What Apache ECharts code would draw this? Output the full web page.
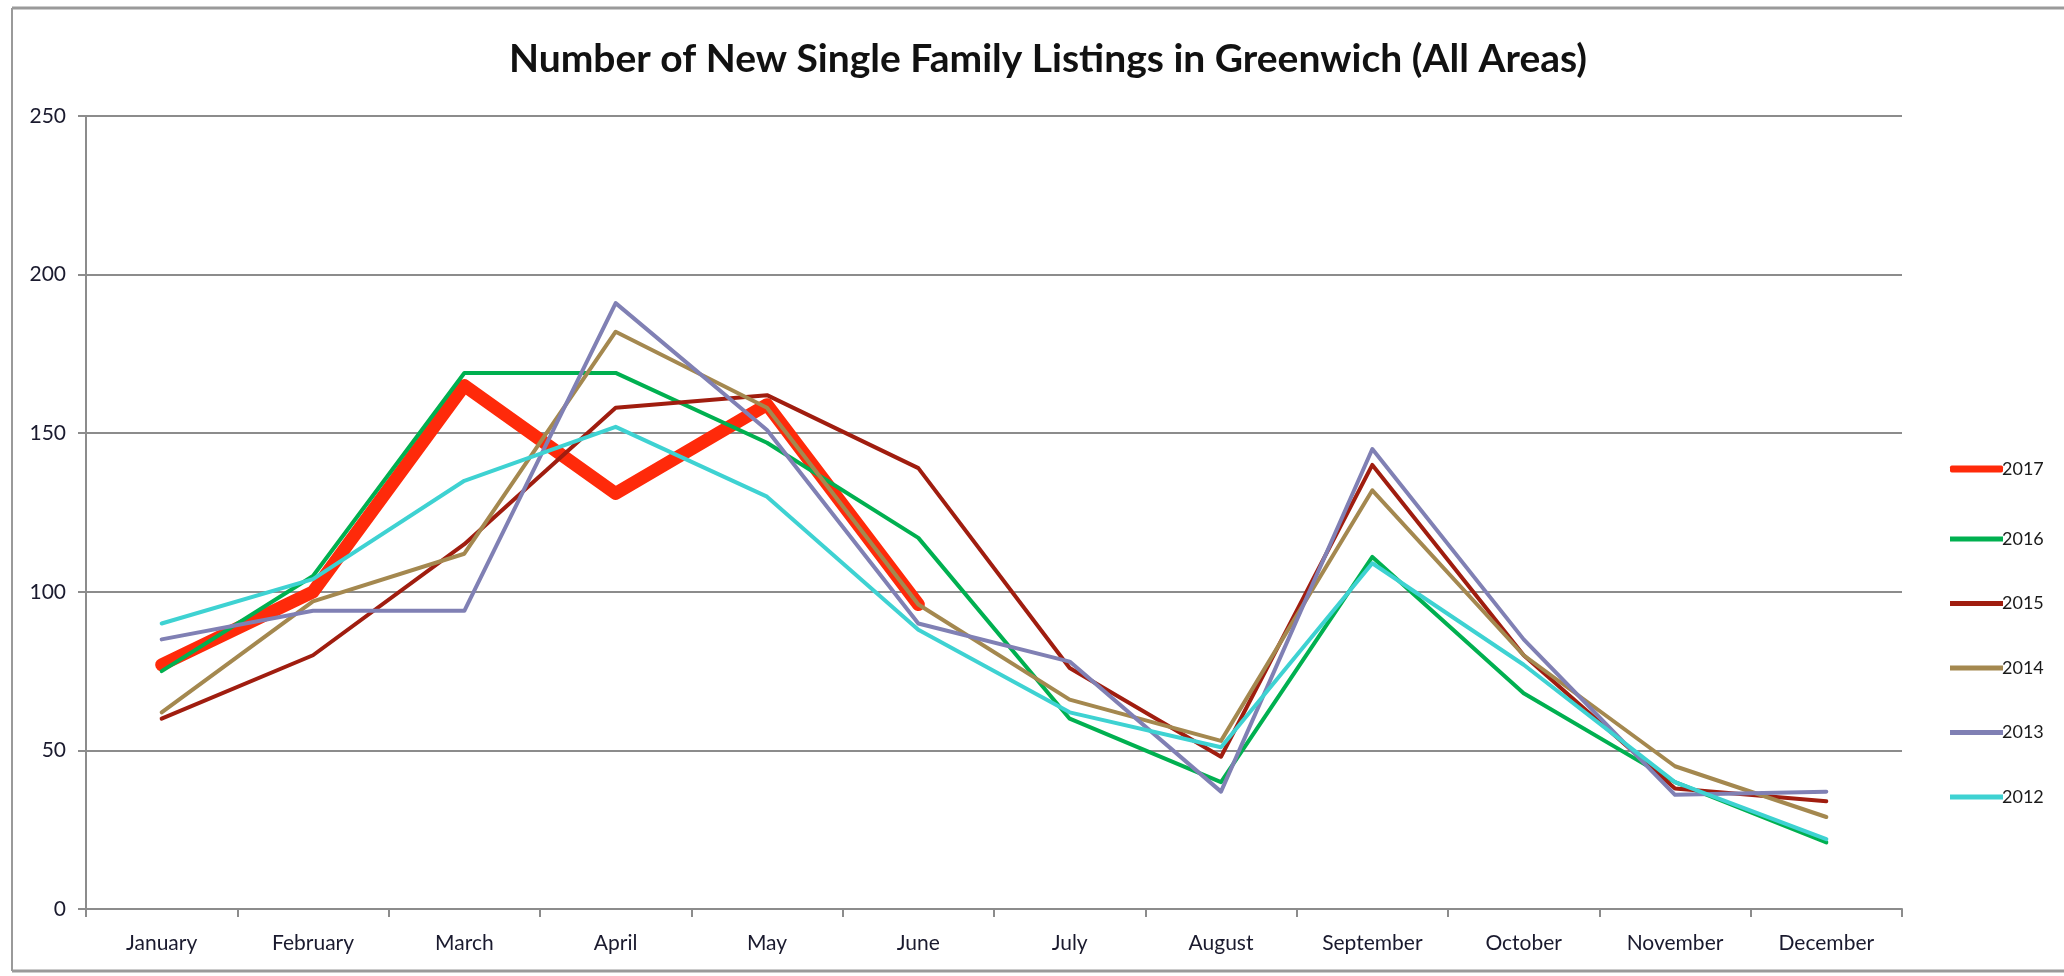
<!DOCTYPE html>
<html>
<head>
<meta charset="utf-8">
<script src="https://cdn.jsdelivr.net/npm/echarts@6/dist/echarts.min.js"></script>
<style>
html,body{margin:0;padding:0;background:#fff;}
#chart{width:2064px;height:976px;}
</style>
</head>
<body>
<div id="chart"></div>
<script>
const months = ['January','February','March','April','May','June','July','August','September','October','November','December'];
const yTicks = [0, 50, 100, 150, 200, 250];
const s2017 = [77, 100, 165, 131, 159, 96, null, null, null, null, null, null];
const s2016 = [75, 105, 169, 169, 147, 117, 60, 40, 111, 68, 40, 21];
const s2015 = [60, 80, 115, 158, 162, 139, 76, 48, 140, 80, 38, 34];
const s2014 = [62, 97, 112, 182, 158, 96, 66, 53, 132, 80, 45, 29];
const s2013 = [85, 94, 94, 191, 151, 90, 78, 37, 145, 85, 36, 37];
const s2012 = [90, 104, 135, 152, 130, 88, 62, 51, 109, 77, 40, 22];
const seriesNames = ['2017','2016','2015','2014','2013','2012'];
const seriesData = [s2017, s2016, s2015, s2014, s2013, s2012];
const colors = ['#ff2a0a', '#00b050', '#a01d0f', '#a4884f', '#8080b4', '#3ed2d2'];
const widths = [13, 4, 4, 4, 4, 4];

const chart = echarts.init(document.getElementById('chart'), null, {renderer: 'canvas'});
const fontFam = 'Lato, "Open Sans", sans-serif';
const option = {
  animation: false,
  backgroundColor: '#ffffff',
  title: {
    text: 'Number of New Single Family Listings in Greenwich (All Areas)',
    left: 1043, top: 35, textAlign: 'center',
    textStyle: {fontFamily: fontFam, fontWeight: 'bold', fontSize: 39, color: '#111'}
  },
  grid: {left: 86, right: 162, top: 116, bottom: 67, containLabel: false},
  xAxis: {
    type: 'category', data: months, boundaryGap: true,
    axisLine: {show: true, lineStyle: {color: '#8c8c8c', width: 2}},
    axisTick: {show: true, length: 8, lineStyle: {color: '#8c8c8c', width: 2}},
    axisLabel: {fontFamily: fontFam, fontSize: 21, color: '#1a1a2e', margin: 24}
  },
  yAxis: {
    type: 'value', min: yTicks[0], max: yTicks[yTicks.length - 1], interval: 50,
    axisLine: {show: true, lineStyle: {color: '#8c8c8c', width: 2}},
    axisTick: {show: true, length: 8, lineStyle: {color: '#8c8c8c', width: 2}},
    axisLabel: {fontFamily: fontFam, fontSize: 21, color: '#1a1a2e', margin: 20},
    splitLine: {show: true, lineStyle: {color: '#8c8c8c', width: 2}}
  },
  legend: [
    {
      data: [seriesNames[0]], orient: 'vertical', left: 1945, top: 455,
      itemWidth: 53, itemHeight: 7, icon: 'roundRect', itemGap: 0,
      textStyle: {fontFamily: fontFam, fontSize: 18, color: '#1a1a1a', padding: [0,0,0,-6]}
    },
    {
      data: seriesNames.slice(1), orient: 'vertical', left: 1945, top: 525,
      itemWidth: 53, itemHeight: 5, icon: 'rect', itemGap: 46.5,
      textStyle: {fontFamily: fontFam, fontSize: 18, color: '#1a1a1a', padding: [0,0,0,-6]}
    }
  ],
  series: seriesNames.map((n, i) => ({
    name: n, type: 'line', data: seriesData[i],
    showSymbol: false, symbol: 'none', smooth: false,
    color: colors[i],
    lineStyle: {color: colors[i], width: widths[i], join: 'round', cap: 'round'},
    emphasis: {disabled: true}
  })),
  graphic: [
    {type: 'line', shape: {x1: 12, y1: 8, x2: 2064, y2: 8}, style: {stroke: '#9a9a9a', lineWidth: 3}},
    {type: 'line', shape: {x1: 12, y1: 8, x2: 12, y2: 971}, style: {stroke: '#9a9a9a', lineWidth: 2}},
    {type: 'line', shape: {x1: 12, y1: 971, x2: 2064, y2: 971}, style: {stroke: '#9a9a9a', lineWidth: 3}}
  ]
};
chart.setOption(option);
</script>
</body>
</html>
